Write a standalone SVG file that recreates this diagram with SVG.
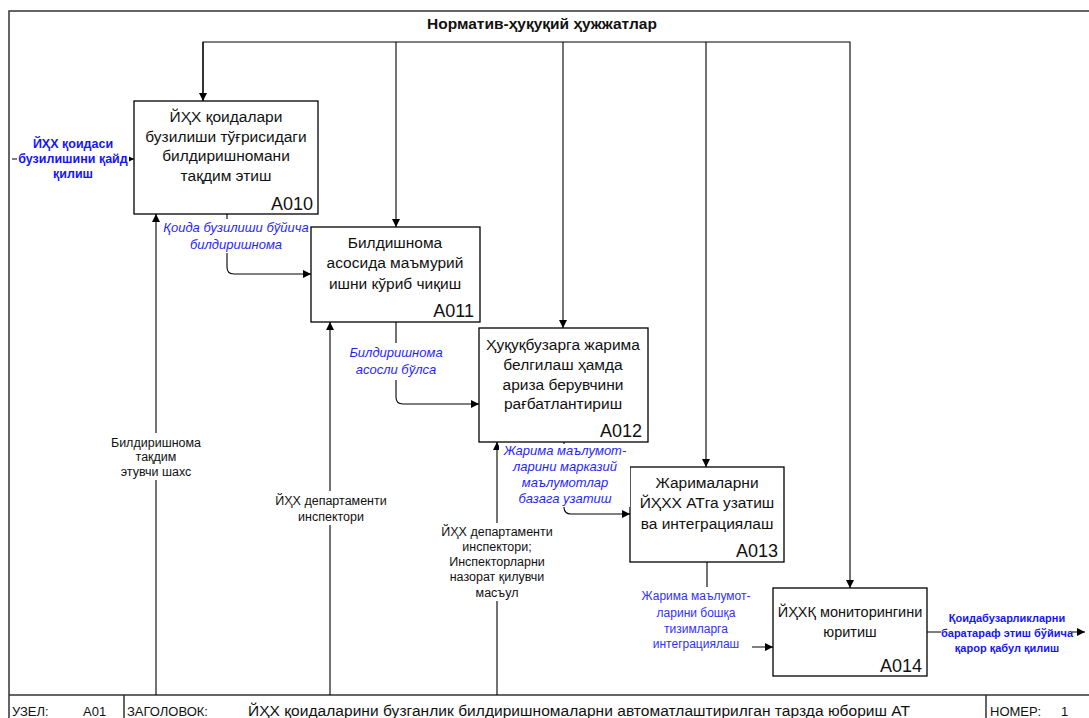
<svg xmlns="http://www.w3.org/2000/svg" width="1089" height="718" viewBox="0 0 1089 718">
<defs>
<marker id="ah" viewBox="0 0 10 10" refX="10" refY="5" markerWidth="9" markerHeight="8" markerUnits="userSpaceOnUse" orient="auto">
<path d="M0,0 L10,5 L0,10 Z" fill="#000"/>
</marker>
<style>
.frame{fill:none;stroke:#333;stroke-width:1.5}
.box{fill:#fff;stroke:#000;stroke-width:1.3}
.ca{fill:none;stroke:#000;stroke-width:1.1;marker-end:url(#ah)}
.bt{font-family:"Liberation Sans",Arial,sans-serif;font-size:15.5px;fill:#111;text-anchor:middle}
.id{font-family:"Liberation Sans",Arial,sans-serif;font-size:18px;fill:#111;text-anchor:end}
.li{font-family:"Liberation Sans",Arial,sans-serif;font-size:13px;font-style:italic;fill:#1f1fff;text-anchor:middle}
.lb{font-family:"Liberation Sans",Arial,sans-serif;font-size:11px;font-weight:bold;fill:#1414ff;text-anchor:middle}
.ln{font-family:"Liberation Sans",Arial,sans-serif;font-size:12px;fill:#3030ff;text-anchor:middle}
.lm{font-family:"Liberation Sans",Arial,sans-serif;font-size:12.5px;fill:#111;text-anchor:middle}
.ft{font-family:"Liberation Sans",Arial,sans-serif;font-size:13px;fill:#111}
.bg{fill:#fff}
</style>
</defs>
<rect width="1089" height="718" fill="#fff"/>
<g id="frame">
<path class="frame" d="M9,718 V11 H1089"/>
<path class="frame" d="M9,695 H1089 M124,695 V718 M986,695 V718"/>
<text class="ft" x="12" y="716">УЗЕЛ:</text>
<text class="ft" x="83" y="716">A01</text>
<text class="ft" x="127" y="716">ЗАГОЛОВОК:</text>
<text class="ft" x="248" y="716" style="font-size:15.5px" textLength="662" lengthAdjust="spacing">ЙҲХ қоидаларини бузганлик билдиришномаларни автоматлаштирилган тарзда юбориш АТ</text>
<text class="ft" x="990" y="716">НОМЕР:</text>
<text class="ft" x="1061" y="716">1</text>
<text x="542" y="29" style="font-family:'Liberation Sans',Arial,sans-serif;font-size:15.5px;font-weight:bold;fill:#111;text-anchor:middle">Норматив-ҳуқуқий ҳужжатлар</text>
</g>
<g id="connectors">
<path class="ca" d="M203,101 V42 H850 V588"/>
<path class="ca" d="M203,42 V101"/>
<path class="ca" d="M396,42 V227"/>
<path class="ca" d="M563,42 V328"/>
<path class="ca" d="M706,42 V467"/>
<path class="ca" d="M12,159 H134"/>
<path class="ca" d="M227,214 V267 Q227,274 234,274 H311"/>
<path class="ca" d="M396,322 V397 Q396,404 403,404 H479"/>
<path class="ca" d="M564,442 V507 Q564,514 571,514 H630"/>
<path class="ca" d="M707,562 V647 H773"/>
<path class="ca" d="M927,632 H1085"/>
<path class="ca" d="M156,695 V214"/>
<path class="ca" d="M330,695 V322"/>
<path class="ca" d="M497,695 V442"/>
</g>
<g id="A010">
<rect class="box" x="134" y="101" width="184" height="113"/>
<text class="bt" x="226" y="122">ЙҲХ қоидалари</text>
<text class="bt" x="226" y="142">бузилиши тўғрисидаги</text>
<text class="bt" x="226" y="161">билдиришномани</text>
<text class="bt" x="226" y="181">тақдим этиш</text>
<text class="id" x="313" y="210">A010</text>
</g>
<g id="A011">
<rect class="box" x="311" y="227" width="169" height="95"/>
<text class="bt" x="395" y="248">Билдишнома</text>
<text class="bt" x="395" y="268">асосида маъмурий</text>
<text class="bt" x="395" y="289">ишни кўриб чиқиш</text>
<text class="id" x="474" y="317">A011</text>
</g>
<g id="A012">
<rect class="box" x="479" y="328" width="169" height="114"/>
<text class="bt" x="563" y="350">Ҳуқуқбузарга жарима</text>
<text class="bt" x="563" y="370">белгилаш ҳамда</text>
<text class="bt" x="563" y="390">ариза берувчини</text>
<text class="bt" x="563" y="409">рағбатлантириш</text>
<text class="id" x="642" y="437">A012</text>
</g>
<g id="A013">
<rect class="box" x="630" y="467" width="154" height="95"/>
<text class="bt" x="707" y="488">Жарималарни</text>
<text class="bt" x="707" y="508">ЙҲХХ АТга узатиш</text>
<text class="bt" x="707" y="529">ва интеграциялаш</text>
<text class="id" x="778" y="557">A013</text>
</g>
<g id="A014">
<rect class="box" x="773" y="588" width="154" height="88"/>
<text class="bt" x="850" y="617" style="font-size:14.5px">ЙҲХҚ мониторингини</text>
<text class="bt" x="850" y="637" style="font-size:14.5px">юритиш</text>
<text class="id" x="922" y="672">A014</text>
</g>
<g id="labels">
<rect class="bg" x="17" y="136" width="112" height="46"/>
<text class="lb" x="73" y="148" style="font-size:12.5px">ЙҲХ қоидаси</text>
<text class="lb" x="73" y="163" style="font-size:12.5px">бузилишини қайд</text>
<text class="lb" x="73" y="178" style="font-size:12.5px">қилиш</text>
<rect class="bg" x="162" y="219" width="147" height="34"/>
<text class="li" x="236" y="232">Қоида бузилиши бўйича</text>
<text class="li" x="236" y="249">билдиришнома</text>
<rect class="bg" x="345" y="343" width="102" height="37"/>
<text class="li" x="396" y="357">Билдиришнома</text>
<text class="li" x="396" y="374">асосли бўлса</text>
<rect class="bg" x="499" y="444" width="131" height="63"/>
<text class="li" x="565" y="455">Жарима маълумот-</text>
<text class="li" x="565" y="471">ларини марказий</text>
<text class="li" x="565" y="487">маълумотлар</text>
<text class="li" x="565" y="503">базага узатиш</text>
<rect class="bg" x="640" y="587" width="112" height="66"/>
<text class="ln" x="696" y="600">Жарима маълумот-</text>
<text class="ln" x="696" y="617">ларини бошқа</text>
<text class="ln" x="696" y="633">тизимларга</text>
<text class="ln" x="696" y="648">интеграциялаш</text>
<rect class="bg" x="941" y="609" width="131" height="47"/>
<text class="lb" x="1007" y="622">Қоидабузарликларни</text>
<text class="lb" x="1007" y="637">баратараф этиш бўйича</text>
<text class="lb" x="1007" y="652">қарор қабул қилиш</text>
<rect class="bg" x="106" y="433" width="100" height="47"/>
<text class="lm" x="156" y="447">Билдиришнома</text>
<text class="lm" x="156" y="461">тақдим</text>
<text class="lm" x="156" y="476">этувчи шахс</text>
<rect class="bg" x="268" y="491" width="126" height="34"/>
<text class="lm" x="331" y="505">ЙҲХ департаменти</text>
<text class="lm" x="331" y="521">инспектори</text>
<rect class="bg" x="432" y="523" width="131" height="78"/>
<text class="lm" x="497" y="536">ЙҲХ департаменти</text>
<text class="lm" x="497" y="551">инспектори;</text>
<text class="lm" x="497" y="566">Инспекторларни</text>
<text class="lm" x="497" y="581">назорат қилувчи</text>
<text class="lm" x="497" y="597">масъул</text>
</g>
</svg>
